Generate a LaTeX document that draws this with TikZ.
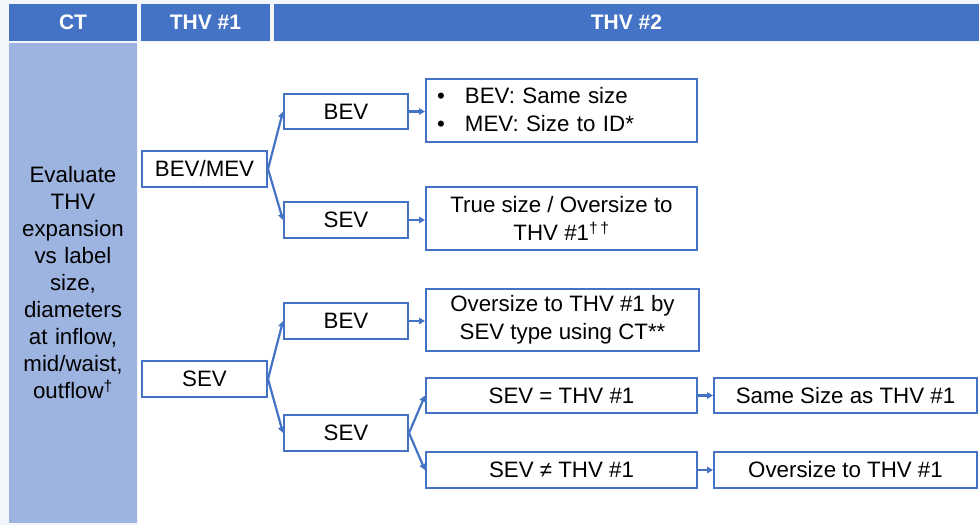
\documentclass[tikz,border=0pt]{standalone}
\usepackage{fontspec}
\setmainfont{Liberation Sans}
\usetikzlibrary{arrows.meta}
\definecolor{hdrblue}{HTML}{4472C4}
\definecolor{colblue}{HTML}{9DB3E0}
\definecolor{pagebg}{HTML}{F2F5FA}
\tikzset{
  hdr/.style={fill=hdrblue, text=white, inner sep=0pt, font=\fontsize{21}{25}\selectfont\bfseries},
  box/.style={draw=hdrblue, line width=2pt, fill=white, inner sep=0pt, align=center,
              font=\fontsize{22.3}{28}\selectfont},
  arr/.style={draw=hdrblue, line width=2.2pt, -{Triangle[length=6pt,width=6.5pt]}},
}
\begin{document}
\begin{tikzpicture}[x=1pt,y=-1pt]
  % page background and white working area
  \fill[pagebg] (0,0) rectangle (979,525);
  \useasboundingbox (0,0) rectangle (979,525);
  \fill[white] (138,42) rectangle (979,525);

  % column headers
  \node[hdr, minimum width=128pt, minimum height=37pt] (hct) at (73,22.5) {CT};
  \node[hdr, minimum width=129pt, minimum height=37pt] (hone) at (205.5,22.5) {THV \#1};
  \node[hdr, minimum width=705pt, minimum height=37pt] (htwo) at (626.5,22.5) {THV \#2};

  % CT column
  \node[fill=colblue, inner sep=0pt, minimum width=128pt, minimum height=480pt,
        text width=128pt, align=center, font=\fontsize{22.3}{27}\selectfont] (ct) at (73,283)
    {Evaluate\\THV\\expansion\\vs label\\size,\\diameters\\at inflow,\\mid/waist,\\outflow\textsuperscript{†}};

  % THV #1
  \node[box, minimum width=125pt, minimum height=36pt] (bm) at (204.5,169) {BEV/MEV};
  \node[box, minimum width=125pt, minimum height=36pt] (s1) at (204.5,379) {SEV};

  % THV #2, first level
  \node[box, minimum width=124pt, minimum height=35pt] (b1) at (346,111.5) {BEV};
  \node[box, minimum width=124pt, minimum height=36pt] (s2) at (346,220) {SEV};
  \node[box, minimum width=124pt, minimum height=36pt] (b3) at (346,321) {BEV};
  \node[box, minimum width=124pt, minimum height=36pt] (s4) at (346,433) {SEV};

  % THV #2, outcomes
  \node[box, minimum width=271pt, minimum height=63pt, text width=249pt, align=left,
        inner xsep=11pt] (r1) at (561.5,110)
    {\makebox[28pt][l]{•}BEV: Same size\\\makebox[28pt][l]{•}MEV: Size to ID*};
  \node[box, minimum width=271pt, minimum height=63pt] (r2) at (561.5,218.5)
    {True size / Oversize to\\THV \#1\textsuperscript{†\,†}};
  \node[box, minimum width=273pt, minimum height=62pt] (r3) at (562.5,320)
    {Oversize to THV \#1 by\\SEV type using CT**};
  \node[box, minimum width=271pt, minimum height=35pt] (r4) at (561.5,395.5) {SEV = THV \#1};
  \node[box, minimum width=271pt, minimum height=36pt] (r5) at (561.5,470) {SEV ≠ THV \#1};
  \node[box, minimum width=263pt, minimum height=35pt] (r6) at (845.5,395.5) {Same Size as THV \#1};
  \node[box, minimum width=263pt, minimum height=36pt] (r7) at (845.5,470) {Oversize to THV \#1};

  % connectors
  \draw[arr] (bm.east) -- (b1.west);
  \draw[arr] (bm.east) -- (s2.west);
  \draw[arr] (s1.east) -- (b3.west);
  \draw[arr] (s1.east) -- (s4.west);
  \draw[arr] (s4.east) -- (r4.west);
  \draw[arr] (s4.east) -- (r5.west);
  \draw[arr] (b1.east) -- (b1.east -| r1.west);
  \draw[arr] (s2.east) -- (s2.east -| r2.west);
  \draw[arr] (b3.east) -- (b3.east -| r3.west);
  \draw[arr] (r4.east) -- (r6.west);
  \draw[arr] (r5.east) -- (r7.west);
\end{tikzpicture}
\end{document}
